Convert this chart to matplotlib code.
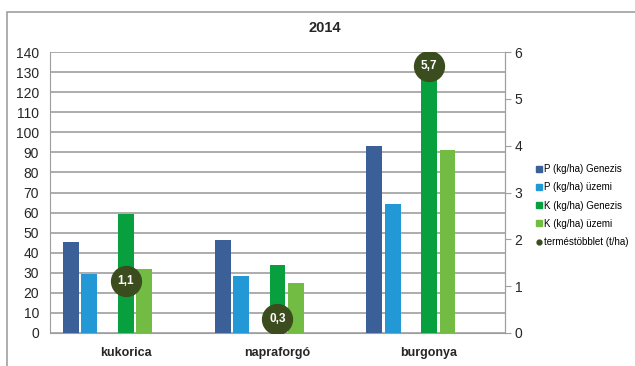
import numpy as np
import matplotlib
matplotlib.use("Agg")
import matplotlib.pyplot as plt
from matplotlib.patches import Rectangle
from matplotlib.lines import Line2D

plt.rcParams['font.family'] = ['Liberation Sans', 'DejaVu Sans']

# adatok ---------------------------------------------
categories = ["kukorica", "napraforgó", "burgonya"]
p_genezis = [45.3, 46.5, 93.0]
p_uzemi = [29.2, 28.3, 64.2]
k_genezis = [59.2, 33.7, 134.0]
k_uzemi = [31.7, 24.7, 91.2]
tobblet = [1.1, 0.3, 5.7]
tobblet_labels = ["1,1", "0,3", "5,7"]

series = [
    ("P (kg/ha) Genezis", p_genezis, "#3b6097", -3),
    ("P (kg/ha) üzemi", p_uzemi, "#2398d6", -2),
    ("K (kg/ha) Genezis", k_genezis, "#08a03e", 0),
    ("K (kg/ha) üzemi", k_uzemi, "#72bc44", 1),
]
dot_color = "#3b4d1f"
grid_color = "#9e9e9e"
dot_name = "terméstöbblet (t/ha)"

# rajz -------------------------------------------------
fig = plt.figure(figsize=(6.35, 3.66), dpi=100)
fig.patches.append(Rectangle((7 / 635, -0.1), 1.2, (366 - 12) / 366 + 0.1,
                             transform=fig.transFigure, fill=False,
                             edgecolor="#a0a0a0", linewidth=1.2))

ax = fig.add_axes([50 / 635, 33 / 366, 455 / 635, 281 / 366])
x = np.arange(len(categories))
slot = 0.1207
width = 0.105

ax.set_xlim(-0.5, 2.5)
ax.set_ylim(0, 140)
ax.set_yticks(range(0, 141, 10))
ax.set_axisbelow(True)
ax.grid(True, axis="y", color=grid_color, linewidth=1.2)

for name, vals, color, pos in series:
    ax.bar(x + pos * slot, vals, width=width, color=color, label=name, zorder=3)

ax.set_xticks(x)
ax.set_xticklabels(categories, fontsize=9, fontweight="bold", color="#262626")
ax.tick_params(axis="x", length=0, pad=10)
ax.tick_params(axis="y", length=0, labelsize=10, labelcolor="#262626", pad=8)
ax.spines["top"].set_visible(False)
for s in ["left", "bottom", "right"]:
    ax.spines[s].set_color("#9e9e9e")

# második tengely a terméstöbbletnek
ax2 = ax.twinx()
ax2.patch.set_visible(False)
ax2.set_ylim(0, 6)
ax2.set_yticks(range(0, 7))
ax2.tick_params(axis="y", length=4, color="#9e9e9e", labelsize=10,
                labelcolor="#262626", pad=3)
for s in ["top", "left", "bottom"]:
    ax2.spines[s].set_visible(False)
ax2.spines["right"].set_color("#9e9e9e")
ax2.plot(x, tobblet, linestyle="none", marker="o", markersize=21.5,
         color=dot_color, zorder=5)
for xi, v, lab in zip(x, tobblet, tobblet_labels):
    ax2.text(xi, v, lab, ha="center", va="center", color="white",
             fontsize=8.5, fontweight="bold", zorder=6)

# jelmagyarázat
handles = [Line2D([], [], linestyle="none", marker="s", markersize=4.5,
                  color=c) for _, _, c, _ in series]
handles.append(Line2D([], [], linestyle="none", marker="o", markersize=3.5,
                      color=dot_color))
labels = [s[0] for s in series] + [dot_name]
fig.legend(handles, labels, loc="upper left",
           bbox_to_anchor=(536 / 635, 1 - 164 / 366),
           frameon=False, fontsize=7, handlelength=0.6, handletextpad=0.2,
           labelspacing=0.85, borderaxespad=0, borderpad=0)

fig.text(325 / 635, 1 - 28 / 366, "2014", ha="center", va="center",
         fontsize=10.5, fontweight="bold", color="#262626")

plt.savefig("out.png", dpi=100)
